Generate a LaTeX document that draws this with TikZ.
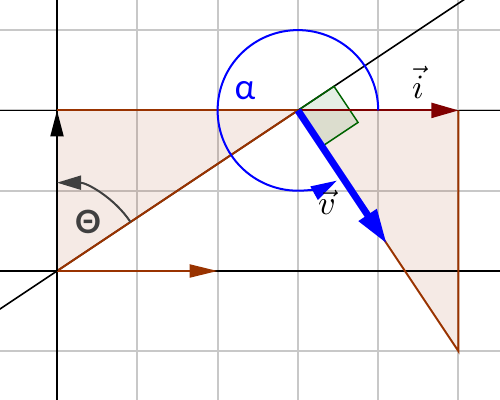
\documentclass[tikz,border=0pt]{standalone}
\usepackage{fontspec}
\usepackage{graphicx}
\newfontfamily\greekfont{Lato}
\usetikzlibrary{arrows.meta,calc}
\definecolor{gridgrey}{RGB}{200,200,200}
\definecolor{brownline}{RGB}{153,51,0}
\definecolor{darkredline}{RGB}{128,0,0}
\definecolor{greenline}{RGB}{0,100,0}
\definecolor{thetagrey}{RGB}{64,64,64}
\tikzset{
  gridline/.style={gridgrey,line width=2pt},
  axisline/.style={black,line width=1.6pt},
  brownedge/.style={brownline,line width=2pt},
  vecv/.style={blue,line width=7pt,-{Triangle[length=35pt,width=20pt]}},
  veci/.style={darkredline,line width=2pt,-{Triangle[length=27pt,width=15pt]}},
  vecx/.style={brownline,line width=2pt,-{Triangle[length=28pt,width=13pt]}},
  vecy/.style={black,line width=2pt,-{Triangle[length=26pt,width=13pt]}},
  anglearc/.style={blue,line width=2pt,-{Triangle[length=26pt,width=15pt]}},
  thetaarc/.style={thetagrey,line width=2pt,-{Triangle[length=24pt,width=14pt]}},
  lbl/.style={inner sep=0pt}
}
\begin{document}
\begin{tikzpicture}[x=80.3pt,y=80.3pt]
\useasboundingbox (-0.710,-1.606) rectangle (5.517,3.375);
\clip (-0.710,-1.606) rectangle (5.517,3.375);
% grid
\foreach \gx in {0,...,5} \draw[gridline] (\gx,-1.7) -- (\gx,3.5);
\foreach \gy in {-1,...,3} \draw[gridline] (-0.8,\gy) -- (5.6,\gy);
% key points
\coordinate (O) at (0,0);
\coordinate (Y) at (0,2);
\coordinate (X) at (2,0);
\coordinate (P) at (3,2);
\coordinate (I) at (5,2);
\coordinate (Q) at (5,-1);
\coordinate (V) at ($(P)+(2*0.5547,-2*0.8321)$);
\coordinate (LA) at (-0.8,-0.5333);
\coordinate (LB) at (5.3,3.5333);
% shaded region
\fill[brownline,opacity=0.1] (O) -- (Y) -- (I) -- (Q) -- (P) -- cycle;
% black lines
\draw[axisline] (-0.8,0) -- (5.6,0);
\draw[axisline] (0,-1.7) -- (0,3.5);
\draw[axisline] (-0.8,2) -- (5.6,2);
\draw[black,line width=1.6pt] (LA) -- (LB);
% brown edges
\draw[brownedge] (O) -- (P);
\draw[brownedge] (Y) -- (P);
\draw[brownedge] (I) -- (Q) -- (P);
% right angle mark
\filldraw[greenline,line width=1.5pt,fill opacity=0.1]
  (P) -- ++(0.54*0.8321,0.54*0.5547) -- ++(0.54*0.5547,-0.54*0.8321)
  -- ++(-0.54*0.8321,-0.54*0.5547) -- cycle;
% vectors
\draw[vecx] (O) -- (X);
\draw[vecy] (O) -- (Y);
\draw[veci] (P) -- (I);
% angle arcs
\draw[anglearc] ($(P)+(1,0)$) arc[start angle=0,end angle=299,radius=1];
\draw[thetaarc] ($(O)+(33.69:1.1)$) arc[start angle=33.69,end angle=90,radius=1.1];
\draw[vecv] (P) -- (V);
% labels
\node[lbl,text=blue,font=\greekfont\fontsize{35}{40}\selectfont] (alpha) at (2.34,2.25) {α};
\node[lbl,text=thetagrey,font=\greekfont\bfseries\fontsize{32}{36}\selectfont] (theta) at (0.386,0.61) {Θ};
\node[lbl] (vlab) at (3.362,0.86) {\scalebox{3.4}{$\vec{v}$}};
\node[lbl] (ilab) at (4.496,2.353) {\scalebox{3.4}{$\vec{i}$}};
\end{tikzpicture}
\end{document}
